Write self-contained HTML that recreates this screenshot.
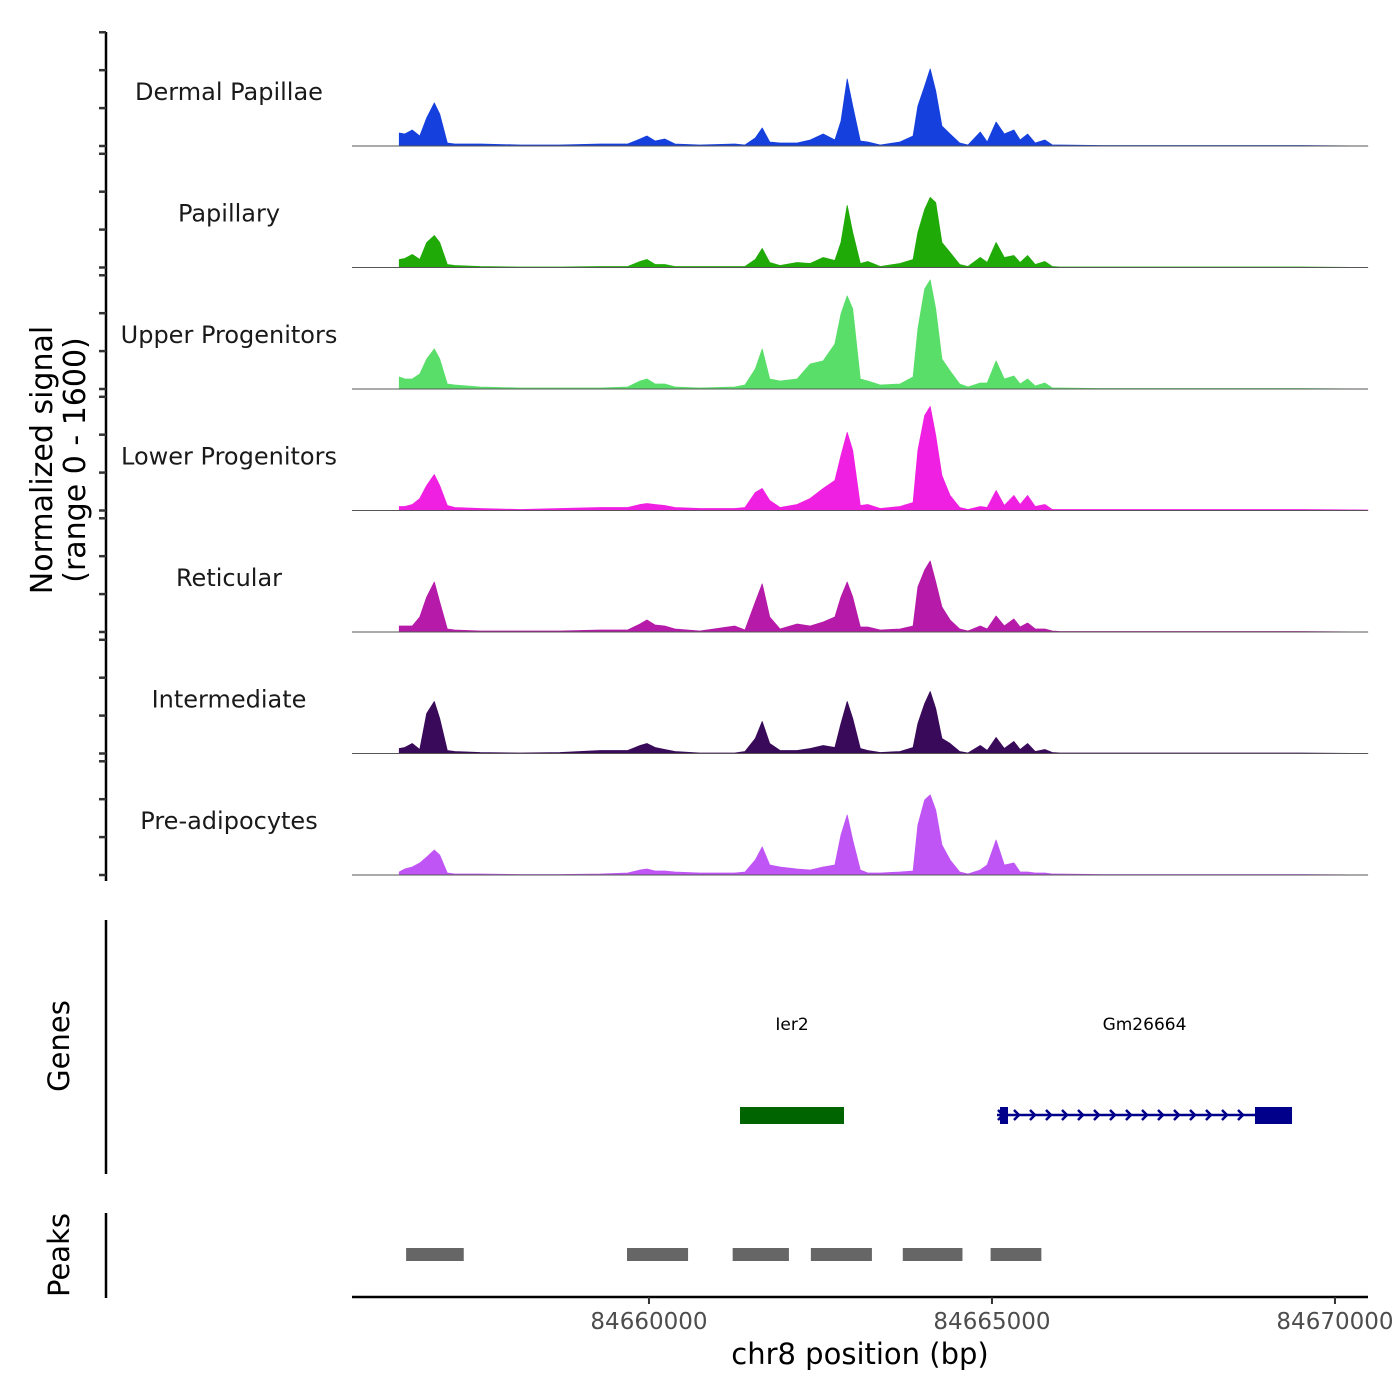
<!DOCTYPE html>
<html><head><meta charset="utf-8"><style>
body{margin:0;background:#fff;}
svg{display:block;font-family:"DejaVu Sans","Liberation Sans",sans-serif;}
</style></head><body>
<svg id="chart" width="1400" height="1400" viewBox="0 0 1400 1400">
<rect width="1400" height="1400" fill="#fff"/>
<g id="tracks"></g>
<g id="yaxis"></g>
<text x="52" y="460" font-size="30" text-anchor="middle" transform="rotate(-90 52 460)" fill="#000">Normalized signal</text>
<text x="85" y="460" font-size="30" text-anchor="middle" transform="rotate(-90 85 460)" fill="#000">(range 0 - 1600)</text>
<line x1="106" y1="920" x2="106" y2="1174" stroke="#000" stroke-width="2.5"/>
<text x="69" y="1046" font-size="29" text-anchor="middle" transform="rotate(-90 69 1046)" fill="#000">Genes</text>
<line x1="106" y1="1213" x2="106" y2="1298" stroke="#000" stroke-width="2.5"/>
<text x="69" y="1255" font-size="29" text-anchor="middle" transform="rotate(-90 69 1255)" fill="#000">Peaks</text>
<g id="genes"></g>
<g id="peaks"></g>
<g id="xaxis"></g>
<text x="860" y="1364" font-size="29" text-anchor="middle" fill="#000">chr8 position (bp)</text>
</svg>
<script>
const NS="http://www.w3.org/2000/svg";
const trackNames=["Dermal Papillae","Papillary","Upper Progenitors","Lower Progenitors","Reticular","Intermediate","Pre-adipocytes"];
const trackColors=["#1540dd","#20aa08","#5ade6a","#f020e2","#b51aa8","#3a0a5a","#c055f5"];
const positions=[84656360,84656440,84656550,84656660,84656760,84656870,84656950,84657060,84657170,84657540,84658120,84658700,84659290,84659690,84659870,84659970,84660090,84660230,84660380,84660740,84661250,84661400,84661550,84661650,84661760,84661910,84662160,84662350,84662540,84662710,84662800,84662890,84662970,84663080,84663190,84663370,84663660,84663850,84663920,84664020,84664100,84664180,84664270,84664390,84664530,84664650,84664830,84664930,84665060,84665180,84665320,84665410,84665520,84665630,84665770,84665880,84665990,84666580,84668030,84669490,84670480];
const sigDermal=[172,158,211,132,370,568,422,40,26,26,13,13,26,26,92,132,66,92,26,13,26,13,106,238,53,40,40,79,158,79,330,884,528,66,53,13,53,132,528,792,1016,726,264,158,40,13,185,53,317,158,211,79,158,40,79,13,13,7,7,7,0];
const sigPapillary=[106,119,172,106,330,422,330,40,26,13,7,7,13,13,79,106,40,40,13,13,13,13,106,251,66,26,66,53,132,92,330,818,462,53,79,13,53,106,462,766,924,858,330,198,40,13,132,66,330,132,158,66,158,40,79,13,7,7,7,7,0];
const sigUpper=[158,132,132,198,396,528,396,66,53,26,13,13,13,26,106,132,66,66,26,13,26,53,264,528,132,106,132,330,370,594,990,1228,1056,132,106,53,66,158,792,1320,1439,1056,396,238,66,26,79,79,370,132,172,66,132,40,79,13,13,7,7,7,0];
const sigLower=[53,53,79,158,330,475,330,66,40,26,13,26,40,40,79,92,79,66,40,26,26,40,238,290,132,40,79,158,290,396,726,1030,792,66,79,26,53,106,792,1254,1373,990,462,198,40,13,53,40,264,66,198,79,198,53,79,13,13,13,13,13,7];
const sigReticular=[79,79,79,198,462,660,396,40,26,13,13,13,26,26,106,158,92,79,40,13,79,26,396,634,198,40,106,79,132,198,462,660,462,66,66,26,40,79,594,818,937,660,330,158,40,13,79,40,211,79,172,66,119,40,40,13,7,7,7,7,0];
const sigIntermediate=[66,79,132,53,528,686,462,40,26,13,7,13,40,40,106,132,79,53,26,7,7,26,198,422,132,40,40,66,106,79,396,686,462,66,40,13,26,79,396,660,818,594,198,132,26,7,106,40,211,66,158,53,132,26,53,13,7,7,7,7,0];
const sigPreadipo=[40,79,106,158,238,330,264,26,13,13,7,7,13,26,66,79,53,53,40,26,26,40,198,370,132,106,79,66,106,132,528,792,462,66,26,26,40,53,660,990,1056,858,396,198,40,13,66,132,462,132,158,40,40,26,26,13,13,7,7,7,0];
const signals=[sigDermal,sigPapillary,sigUpper,sigLower,sigReticular,sigIntermediate,sigPreadipo];
const yTicks=[0,500,1000,1500];
const xTicks=[84660000,84665000,84670000];
const peakStarts=[84656460,84659680,84661220,84662360,84663700,84664980];
const peakEnds=[84657300,84660570,84662040,84663250,84664570,84665720];
const geneNames=["Ier2","Gm26664"];
const geneStarts=[84661327,84665073];
const geneEnds=[84662843,84669374];
const exonStarts=[[84661327],[84665117,84668834]];
const exonEnds=[[84662843],[84665234,84669374]];
const geneColors=["#006400","#00008b"];

const X0=84655671, PX=0.0686, XL=352, XR=1368;
const xs=bp=>XL+(bp-X0)*PX;
const baselines=[146,267.5,389,510.5,632,753.5,875];
const yMax=1600, trackH=121.3;
const ys=(v,i)=>baselines[i]-v/yMax*trackH;
function mk(t,a,p){const e=document.createElementNS(NS,t);for(const k in a)e.setAttribute(k,a[k]);p.appendChild(e);return e;}

const tg=document.getElementById('tracks');
signals.forEach((s,i)=>{
  const g=mk('g',{},tg);
  
  
  let d='M'+xs(positions[0]).toFixed(1)+','+baselines[i];
  s.forEach((v,j)=>{d+=' L'+xs(positions[j]).toFixed(1)+','+ys(v,i).toFixed(1);});
  d+=' L'+xs(positions[positions.length-1]).toFixed(1)+','+baselines[i]+'Z';
  const a=mk('path',{d:d,fill:trackColors[i],stroke:trackColors[i],'stroke-width':0.8,'stroke-linejoin':'round'},g);
  
  
  const b=mk('line',{x1:XL,x2:XR,y1:baselines[i],y2:baselines[i],stroke:'#555','stroke-width':1},g);
  
  
  const t=mk('text',{x:229,y:baselines[i]-46,'font-size':24,'text-anchor':'middle',fill:'#1a1a1a'},g);
  t.textContent=trackNames[i];
  
  
});

const ya=document.getElementById('yaxis');
const ax=mk('line',{x1:106,x2:106,y1:32,y2:881,stroke:'#000','stroke-width':2.5},ya);


baselines.forEach((b,i)=>{yTicks.forEach(v=>{
  const y=ys(v,i);
  const tk=mk('line',{x1:99,x2:106,y1:y,y2:y,stroke:'#333','stroke-width':2.5},ya);
  
  
});});

const gg=document.getElementById('genes');
geneNames.forEach((n,i)=>{
  const g=mk('g',{},gg);
  
  
  const x1=xs(geneStarts[i]),x2=xs(geneEnds[i]);
  const l=mk('line',{x1:x1,x2:x2,y1:1115,y2:1115,stroke:geneColors[i],'stroke-width':2.5},g);
  
  
  exonStarts[i].forEach((s,j)=>{
    const r=mk('rect',{x:xs(s),y:1107,width:xs(exonEnds[i][j])-xs(s),height:17,fill:geneColors[i]},g);
    
    
  });
  if(i===1){
    for(let x=x1+4;x<xs(exonStarts[i][1])-6;x+=16){
      const c=mk('path',{d:`M${x-3},1110 L${x+2},1115 L${x-3},1120`,fill:'none',stroke:geneColors[i],'stroke-width':2.5},g);
      
      
    }
  }
  const t=mk('text',{x:(x1+x2)/2,y:1030,'font-size':17,'text-anchor':'middle',fill:'#000'},g);
  t.textContent=n;
  
  
});

const pg=document.getElementById('peaks');
peakStarts.forEach((s,i)=>{
  const r=mk('rect',{x:xs(s),y:1248,width:xs(peakEnds[i])-xs(s),height:13,fill:'#666'},pg);
  
  
});

const xa=document.getElementById('xaxis');
const xl=mk('line',{x1:XL,x2:XR,y1:1297,y2:1297,stroke:'#000','stroke-width':2.5},xa);


xTicks.forEach(v=>{
  const x=xs(v);
  const tk=mk('line',{x1:x,x2:x,y1:1297,y2:1304,stroke:'#333','stroke-width':2},xa);
  
  
  const t=mk('text',{x:x,y:1329,'font-size':23,'text-anchor':'middle',fill:'#4d4d4d'},xa);
  t.textContent=v;
  
  
});
</script>
</body></html>
